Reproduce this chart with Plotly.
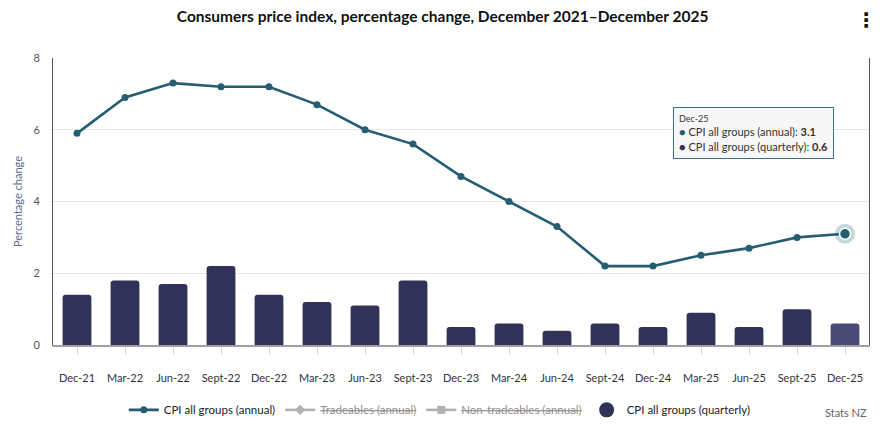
import plotly.graph_objects as go

categories = ["Dec-21", "Mar-22", "Jun-22", "Sept-22", "Dec-22", "Mar-23", "Jun-23", "Sept-23",
              "Dec-23", "Mar-24", "Jun-24", "Sept-24", "Dec-24", "Mar-25", "Jun-25", "Sept-25", "Dec-25"]
annual = [5.9, 6.9, 7.3, 7.2, 7.2, 6.7, 6.0, 5.6, 4.7, 4.0, 3.3, 2.2, 2.2, 2.5, 2.7, 3.0, 3.1]
quarterly = [1.4, 1.8, 1.7, 2.2, 1.4, 1.2, 1.1, 1.8, 0.5, 0.6, 0.4, 0.6, 0.5, 0.9, 0.5, 1.0, 0.6]
y_ticks = [0, 2, 4, 6, 8]

LINE = "#255e72"
BAR = "#323258"
BAR_HOVER = "#4b4b78"
FONT = "Lato"

bar_colors = [BAR] * (len(categories) - 1) + [BAR_HOVER]

fig = go.Figure()

fig.add_trace(go.Bar(
    x=categories, y=quarterly, marker=dict(color=bar_colors, line=dict(width=0)),
    name="CPI all groups (quarterly)", showlegend=False, hoverinfo="skip",
))

fig.add_trace(go.Scatter(
    x=categories, y=annual, mode="lines+markers",
    line=dict(color=LINE, width=2.6), marker=dict(color=LINE, size=7),
    name="CPI all groups (annual)", hoverinfo="skip",
))

fig.add_trace(go.Scatter(
    x=[None], y=[None], mode="lines+markers",
    line=dict(color="#666666", width=2.5), marker=dict(color="#666666", size=8, symbol="diamond"),
    name='<span style="text-decoration:line-through">Tradeables (annual)</span>',
    visible="legendonly",
))
fig.add_trace(go.Scatter(
    x=[None], y=[None], mode="lines+markers",
    line=dict(color="#666666", width=2.5), marker=dict(color="#666666", size=8, symbol="square"),
    name='<span style="text-decoration:line-through">Non-tradeables (annual)</span>',
    visible="legendonly",
))
fig.add_trace(go.Scatter(
    x=[None], y=[None], mode="markers",
    marker=dict(color=BAR, size=15, symbol="circle"),
    name="CPI all groups (quarterly)",
))

# hovered point halo
fig.add_trace(go.Scatter(
    x=[categories[-1]], y=[annual[-1]], mode="markers",
    marker=dict(color="rgba(37,94,114,0.25)", size=20),
    showlegend=False, hoverinfo="skip",
))
fig.add_trace(go.Scatter(
    x=[categories[-1]], y=[annual[-1]], mode="markers",
    marker=dict(color=LINE, size=11, line=dict(color="white", width=1.5)),
    showlegend=False, hoverinfo="skip",
))

tooltip = (
    f'<span style="font-size:9px">{categories[-1]}</span><br>'
    f'<span style="color:{LINE}">●</span> CPI all groups (annual): <b>{annual[-1]}</b><br>'
    f'<span style="color:{BAR}">●</span> CPI all groups (quarterly): <b>{quarterly[-1]}</b>'
)

fig.update_layout(
    width=887, height=419,
    margin=dict(l=45, r=26, t=50, b=82, autoexpand=False),
    paper_bgcolor="white", plot_bgcolor="white",
    font=dict(family=FONT, size=11, color="#333333"),
    title=dict(text="<b>Consumers price index, percentage change, December 2021–December 2025</b>",
               x=0.49, xanchor="center", y=0.992, yanchor="top", pad=dict(t=0, b=0),
               font=dict(family=FONT, size=15.5, color="#111111")),
    bargap=0.4,
    barcornerradius=3,
    showlegend=True,
    legend=dict(orientation="h", x=0.474, xanchor="center", y=-0.226, yanchor="middle",
                font=dict(family=FONT, size=11.5, color="#222222"), traceorder="normal",
                itemclick=False, itemdoubleclick=False, itemwidth=30),
    xaxis=dict(
        type="category", showgrid=False, showline=True, linecolor="#a0a0a0", linewidth=2,
        ticks="outside", ticklen=8, tickcolor="#ccd6eb", tickwidth=1,
        ticklabelstandoff=14, automargin=False,
        tickfont=dict(family=FONT, size=11, color="#333333"),
        range=[-0.5, len(categories) - 0.5],
    ),
    yaxis=dict(
        range=[0, 8], tickvals=y_ticks, showgrid=True, gridcolor="#e6e6e6", gridwidth=1,
        showline=True, linecolor="#555555", linewidth=1, mirror=True, zeroline=False,
        tickfont=dict(family=FONT, size=11, color="#555555"), ticklabelstandoff=10, automargin=False,
        title=dict(text="Percentage change", font=dict(family=FONT, size=11, color="#5a6a8a"), standoff=8),
    ),
    annotations=[
        dict(text=tooltip, xref="paper", yref="paper", x=0.76, y=0.829, xanchor="left", yanchor="top",
             showarrow=False, align="left", bgcolor="#f7f7f7", bordercolor="#3a7285", borderwidth=1,
             borderpad=5, font=dict(family=FONT, size=11, color="#333333")),
        dict(text="Stats NZ", xref="paper", yref="paper", x=1.0, y=-0.234, xanchor="right", yanchor="middle",
             showarrow=False, font=dict(family=FONT, size=11, color="#666666")),
        dict(text="<b>⋮</b>", xref="paper", yref="paper", x=0.996, y=1.132, xanchor="center", yanchor="middle",
             showarrow=False, font=dict(family="DejaVu Sans", size=20, color="#111111")),
    ],
)

fig.write_html("out.html")
